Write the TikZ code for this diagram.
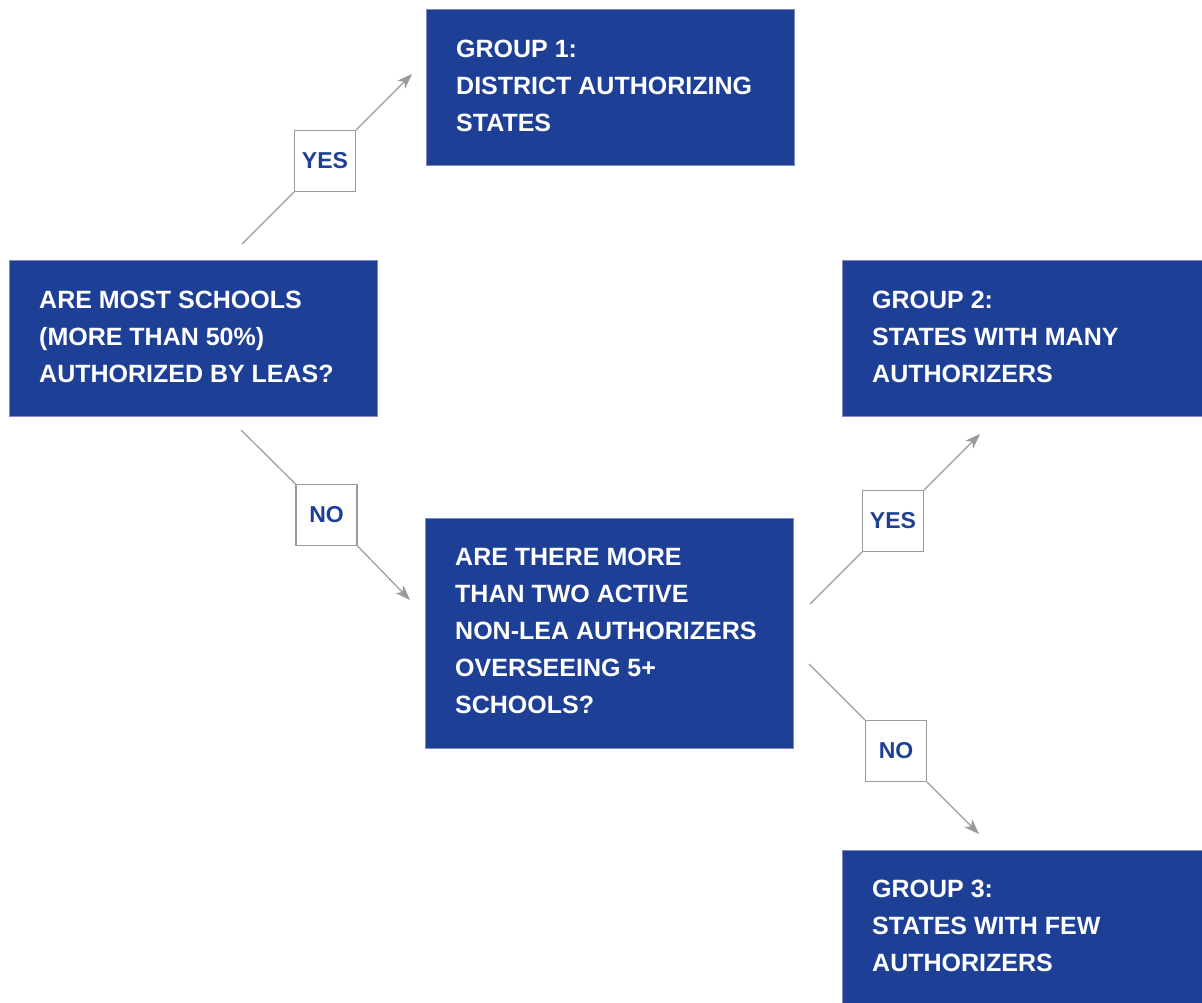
\documentclass[tikz,border=0pt]{standalone}
\usepackage{fontspec}
\setmainfont{Liberation Sans}
\usetikzlibrary{arrows.meta}
\definecolor{boxblue}{HTML}{1E3F96}
\definecolor{boxedge}{HTML}{8088C0}
\definecolor{linegray}{HTML}{9A9A9C}
\newcommand{\firststrut}{\rule{0pt}{19pt}}
\tikzset{
  bluebox/.style={draw=boxedge, line width=1.2pt, fill=boxblue, rectangle, inner sep=0pt, anchor=north west},
  boxtext/.style={text=white, font=\fontsize{25}{37}\selectfont\bfseries, align=left, anchor=north west, inner sep=0pt},
  tagbox/.style={draw=linegray, line width=1.2pt, fill=white, rectangle, minimum width=61pt, minimum height=61pt, inner sep=0pt, text=boxblue, font=\fontsize{23}{27}\selectfont\bfseries},
  conn/.style={draw=linegray, line width=1.2pt},
  arr/.style={conn, -{Stealth[length=15pt, width=11pt, inset=4pt]}}
}
\begin{document}
\begin{tikzpicture}[x=1pt,y=1pt]
\useasboundingbox (0,0) rectangle (1202,-1003);
% blue boxes
\node[bluebox, minimum width=368pt, minimum height=156pt] (qa) at (9,-260) {};
\node[bluebox, minimum width=368pt, minimum height=156pt] (g1) at (426,-9) {};
\node[bluebox, minimum width=380pt, minimum height=156pt] (g2) at (842,-260) {};
\node[bluebox, minimum width=368pt, minimum height=230pt] (qb) at (425,-518) {};
\node[bluebox, minimum width=380pt, minimum height=170pt] (g3) at (842,-850) {};
% texts
\node[boxtext] (tqa) at ([shift={(30,-29)}]qa.north west) {\firststrut ARE MOST SCHOOLS\\(MORE THAN 50\%)\\AUTHORIZED BY LEAS?};
\node[boxtext] (tg1) at ([shift={(30,-29)}]g1.north west) {\firststrut GROUP 1:\\DISTRICT AUTHORIZING\\STATES};
\node[boxtext] (tg2) at ([shift={(30,-29)}]g2.north west) {\firststrut GROUP 2:\\STATES WITH MANY\\AUTHORIZERS};
\node[boxtext] (tqb) at ([shift={(30,-28)}]qb.north west) {\firststrut ARE THERE MORE\\THAN TWO ACTIVE\\NON-LEA AUTHORIZERS\\OVERSEEING 5+\\SCHOOLS?};
\node[boxtext] (tg3) at ([shift={(30,-28)}]g3.north west) {\firststrut GROUP 3:\\STATES WITH FEW\\AUTHORIZERS};
% tag boxes
\node[tagbox] (yes1) at (325,-161) {YES};
\node[tagbox] (no1) at (326.5,-515) {NO};
\node[tagbox] (yes2) at (893,-521) {YES};
\node[tagbox] (no2) at (896,-751) {NO};
% free ends
\coordinate (s1) at (242,-244);
\coordinate (t1) at (412,-74);
\coordinate (s2) at (241,-430);
\coordinate (t2) at (410,-600);
\coordinate (s3) at (810,-604);
\coordinate (t3) at (980,-434);
\coordinate (s4) at (809,-664);
\coordinate (t4) at (979,-834);
% connectors
\draw[conn] (s1) -- (yes1.south west);
\draw[arr] (yes1.north east) -- (t1);
\draw[conn] (s2) -- (no1.north west);
\draw[arr] (no1.south east) -- (t2);
\draw[conn] (s3) -- (yes2.south west);
\draw[arr] (yes2.north east) -- (t3);
\draw[conn] (s4) -- (no2.north west);
\draw[arr] (no2.south east) -- (t4);
\end{tikzpicture}
\end{document}
